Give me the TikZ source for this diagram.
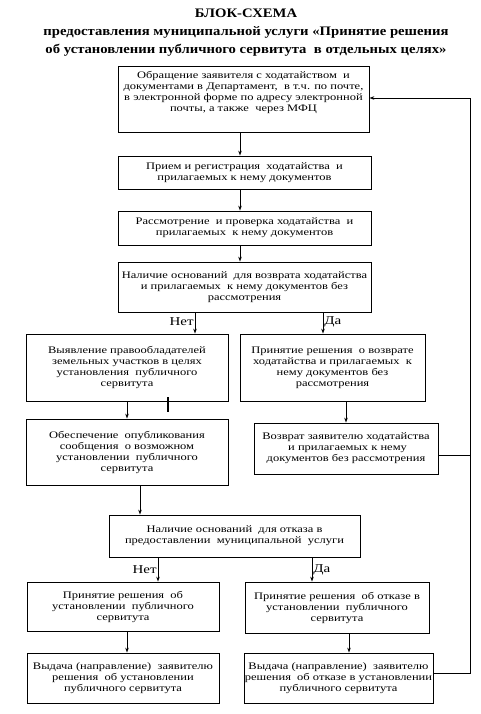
\documentclass[tikz,border=0pt]{standalone}
\usepackage{fontspec}
\setmainfont{Liberation Serif}
\newfontfamily\boxfont[FakeStretch=1.25]{Liberation Serif}
\newfontfamily\headfont[FakeStretch=1.13]{Liberation Serif}
\usetikzlibrary{arrows.meta}

\begin{document}
\begin{tikzpicture}[x=1pt, y=-1pt,
  stepbox/.style={rectangle, draw=black, line width=0.8pt, align=center,
                  inner sep=0pt, font=\boxfont\fontsize{10}{11}\selectfont},
  flow/.style={draw=black, line width=0.8pt, -{Stealth[length=5pt,width=3.5pt]}},
  link/.style={draw=black, line width=0.8pt},
  answer/.style={font=\boxfont\fontsize{12}{12}\selectfont, inner sep=1pt},
]
\useasboundingbox (0,0) rectangle (481,714);
\def\backx{470}

\node[font=\headfont\bfseries\fontsize{13}{18}\selectfont, align=center] (title)
  at (246,33) {БЛОК-СХЕМА\\
  предоставления муниципальной услуги «Принятие решения\\
  об установлении публичного сервитута \ в отдельных целях»};

\node[stepbox, minimum width=251, minimum height=66] (apply) at (243.5,99)
  {Обращение заявителя с ходатайством \ и\\документами в Департамент, \ в т.ч. по почте,\\
   в электронной форме по адресу электронной\\почты, а также \ через МФЦ\\[5pt]};
\node[stepbox, minimum width=253, minimum height=33] (accept) at (244.5,172.5)
  {Прием и регистрация \ ходатайства \ и\\прилагаемых к нему документов};
\node[stepbox, minimum width=253, minimum height=34] (review) at (244.5,228)
  {Рассмотрение \ и проверка ходатайства \ и\\прилагаемых \ к нему документов};
\node[stepbox, minimum width=253, minimum height=50] (retq) at (244.5,287)
  {Наличие оснований \ для возврата ходатайства\\и прилагаемых \ к нему документов без\\рассмотрения};

\node[stepbox, minimum width=202, minimum height=67] (owners) at (127,367.5)
  {Выявление правообладателей\\земельных участков в целях\\установления \ публичного\\сервитута};
\node[stepbox, minimum width=185, minimum height=67] (retdec) at (332.5,367.5)
  {Принятие решения \ о возврате\\ходатайства и прилагаемых \ к\\нему документов без\\рассмотрения};
\node[stepbox, minimum width=202, minimum height=66] (publish) at (127,452)
  {Обеспечение \ опубликования\\сообщения \ о возможном\\установлении \ публичного\\сервитута};
\node[stepbox, minimum width=184, minimum height=51] (retback) at (346,448.5)
  {Возврат заявителю ходатайства\\ \ и прилагаемых к нему\\документов без рассмотрения};

\node[stepbox, minimum width=251, minimum height=42] (refq) at (234.5,536)
  {Наличие оснований \ для отказа в\\предоставлении \ муниципальной \ услуги};
\node[stepbox, minimum width=192, minimum height=49] (grant) at (123,606.5)
  {Принятие решения \ об\\установлении \ публичного\\сервитута};
\node[stepbox, minimum width=184, minimum height=51] (refuse) at (337,607.5)
  {Принятие решения \ об отказе в\\установлении \ публичного\\сервитута};
\node[stepbox, minimum width=192, minimum height=50] (issuegr) at (123,678)
  {Выдача (направление) \ заявителю\\решения \ об установлении\\публичного сервитута};
\node[stepbox, minimum width=189, minimum height=50] (issueref) at (338.5,678)
  {Выдача (направление) \ заявителю\\решения \ об отказе в установлении\\публичного сервитута};

% main line
\draw[flow] (apply.south -| 240,0) -- (accept.north -| 240,0);
\draw[flow] (accept.south -| 240,0) -- (review.north -| 240,0);
\draw[flow] (review.south -| 240,0) -- (retq.north -| 240,0);
\draw[flow] (retq.south -| 195,0) -- (owners.north -| 195,0)
  node[answer, pos=0.45, left] {Нет};
\draw[flow] (retq.south -| 323,0) -- (retdec.north -| 323,0)
  node[answer, pos=0.45, right] {Да};
\draw[flow] (owners.south -| 127,0) -- (publish.north -| 127,0);
\draw[line width=1.6pt] (168,397) -- (168,412);
\draw[flow] (retdec.south -| 346,0) -- (retback.north -| 346,0);
\draw[flow] (publish.south -| 140,0) -- (refq.north -| 140,0);
\draw[flow] (refq.south -| 158,0) -- (grant.north -| 158,0)
  node[answer, pos=0.5, left] {Нет};
\draw[flow] (refq.south -| 312,0) -- (refuse.north -| 312,0)
  node[answer, pos=0.5, right] {Да};
\draw[flow] (grant.south -| 127,0) -- (issuegr.north -| 127,0);
\draw[flow] (refuse.south -| 349,0) -- (issueref.north -| 349,0);

% back to the start
\coordinate (backlow) at (\backx,673);
\coordinate (backtop) at (\backx,98);
\draw[flow] (issueref.east |- backlow) -- (backlow) -- (backtop) -- (apply.east |- backtop);
\draw[link] (retback.east |- 0,455) -- (\backx,455);
\end{tikzpicture}
\end{document}
